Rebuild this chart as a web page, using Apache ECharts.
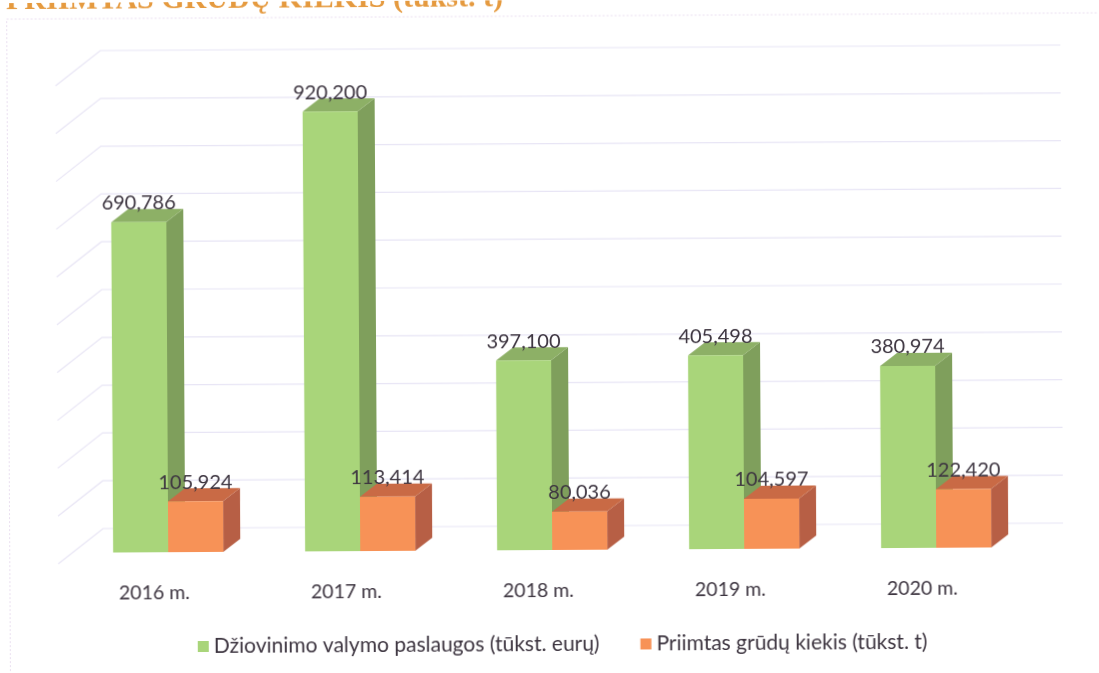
<!DOCTYPE html>
<html><head><meta charset="utf-8">
<style>html,body{margin:0;padding:0;background:#fff;overflow:hidden}#c{width:1099px;height:673px;transform:rotate(-0.33deg);transform-origin:550px 336px;filter:blur(0.4px)}</style>
<script src="https://cdn.jsdelivr.net/npm/echarts@6/dist/echarts.min.js"></script>
</head><body><div id="c"></div>
<script>
const categories = ['2016 m.', '2017 m.', '2018 m.', '2019 m.', '2020 m.'];
const dryingServices = [690786, 920200, 397100, 405498, 380974];
const receivedGrain = [105924, 113414, 80036, 104597, 122420];
const gridTicks = [0, 100000, 200000, 300000, 400000, 500000, 600000, 700000, 800000, 900000, 1000000];
const seriesNames = ['Džiovinimo valymo paslaugos (tūkst. eurų)', 'Priimtas grūdų kiekis (tūkst. t)'];
const titleText = 'PRIIMTAS GRŪDŲ KIEKIS (tūkst. t)';

const WALL = [45, 35], OFF = [14, 11], DEPTH = [17, 13], BAR = 0.287;
const TEXT = '#3d3540', FONT = 'Lato';

function box(slot, cols) {
  return function (params, api) {
    const i = api.value(0), v = api.value(1);
    const base = api.coord([i, 0]), top = api.coord([i, v]);
    const w = api.size([1, 0])[0] * BAR;
    const x0 = base[0] + OFF[0] + (slot === 0 ? -w : 0), x1 = x0 + w;
    const yb = base[1] - OFF[1], yt = top[1] - OFF[1];
    const dx = DEPTH[0], dy = DEPTH[1];
    const poly = (points, fill) => ({ type: 'polygon', shape: { points }, style: { fill } });
    return { type: 'group', children: [
      poly([[x1, yb], [x1 + dx, yb - dy], [x1 + dx, yt - dy], [x1, yt]], cols.side),
      poly([[x0, yt], [x1, yt], [x1 + dx, yt - dy], [x0 + dx, yt - dy]], cols.top),
      poly([[x0, yb], [x1, yb], [x1, yt], [x0, yt]], cols.front),
      { type: 'text', style: { text: v.toLocaleString('en-US'), x: (x0 + x1) / 2, y: yt - 19,
        align: 'center', verticalAlign: 'middle', fill: TEXT, font: '20px ' + FONT } }
    ] };
  };
}
function wall(params, api) {
  const p = api.coord([0, api.value(0)]), cs = params.coordSys;
  return { type: 'polyline',
    shape: { points: [[cs.x, p[1]], [cs.x + WALL[0], p[1] - WALL[1]], [cs.x + cs.width + WALL[0], p[1] - WALL[1]]] },
    style: { fill: null, stroke: '#e8e5f5', lineWidth: 1.2 } };
}
const chart = echarts.init(document.getElementById('c'), null, { renderer: 'canvas' });
chart.setOption({
  backgroundColor: '#fff',
  animation: false,
  title: { text: titleText, left: 3, top: -22, textStyle: { color: '#e59a3f', fontFamily: 'Liberation Serif', fontWeight: 'bold', fontSize: 30 } },
  grid: { left: 57, right: 82, top: 83, bottom: 112 },
  xAxis: { type: 'category', data: categories, axisLine: { show: false }, axisTick: { show: false },
    axisLabel: { margin: 20, color: TEXT, fontFamily: FONT, fontSize: 19.5 } },
  yAxis: { type: 'value', show: false, min: 0, max: 1000000, interval: 100000, splitLine: { show: false } },
  legend: { left: 191, top: 629, itemWidth: 11, itemHeight: 11, itemGap: 41,
    textStyle: { color: TEXT, fontFamily: FONT, fontSize: 21 },
    data: [ { name: seriesNames[0], icon: 'rect', itemStyle: { color: '#a9d57a' } },
            { name: seriesNames[1], icon: 'rect', itemStyle: { color: '#f79257' } } ] },
  graphic: [{ type: 'rect', silent: true, z: -1, shape: { x: 8.5, y: 16, width: 1200, height: 800 },
    style: { fill: null, stroke: '#eadff0', lineWidth: 1, lineDash: [2, 2] } }],
  series: [
    { type: 'custom', name: 'walls', silent: true, clip: false, renderItem: wall, data: gridTicks.map(v => [v]), encode: { y: 0 }, z: 1 },
    { type: 'custom', name: seriesNames[0], clip: false, itemStyle: { color: '#a9d57a' }, z: 2,
      renderItem: box(0, { front: '#a9d57a', side: '#7f9f5c', top: '#8db066' }),
      data: dryingServices.map((v, i) => [i, v]), encode: { x: 0, y: 1 } },
    { type: 'custom', name: seriesNames[1], clip: false, itemStyle: { color: '#f79257' }, z: 3,
      renderItem: box(1, { front: '#f79257', side: '#b75f45', top: '#c96a45' }),
      data: receivedGrain.map((v, i) => [i, v]), encode: { x: 0, y: 1 } }
  ]
});
</script></body></html>
